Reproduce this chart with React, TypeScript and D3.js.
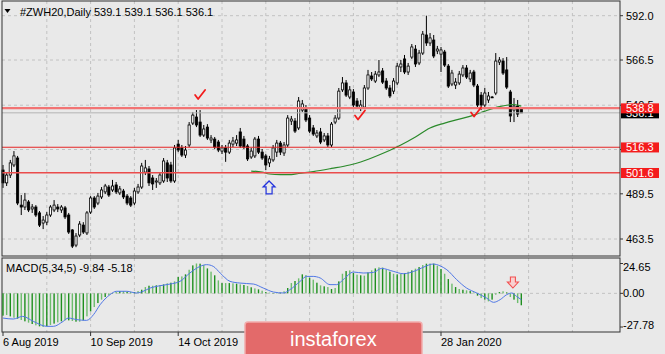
import React from "react";
import * as d3 from "d3";

// #ZWH20 daily bars, first bar = 6 Aug 2019
const opens = [
  503.2, 495.8, 500.3, 506.1, 510.1, 483.0, 481.9, 484.8, 480.8, 481.9,
  478.5, 472.7, 473.2, 477.3, 480.2, 481.9, 480.2, 481.4, 477.3, 468.7,
  460.0, 465.8, 471.5, 467.0, 479.0, 487.1, 484.2, 487.7, 490.6, 493.4,
  491.7, 494.6, 490.0, 491.1, 488.2, 487.1, 484.2, 490.6, 493.4, 502.0,
  503.8, 498.6, 496.3, 495.8, 496.9, 507.3, 506.1, 496.9, 518.1, 515.9,
  511.8, 517.6, 530.2, 533.7, 530.8, 523.3, 527.9, 520.5, 521.0, 519.3,
  514.1, 515.9, 513.5, 518.1, 518.7, 525.1, 521.0, 517.0, 510.7, 511.3,
  521.0, 513.5, 511.3, 507.3, 509.0, 513.5, 518.7, 513.0, 517.6, 531.4,
  531.4, 527.4, 537.7, 538.9, 533.1, 527.4, 522.8, 525.1, 520.5, 522.8,
  517.6, 530.8, 533.1, 549.3, 553.3, 545.2, 548.1, 542.9, 538.9, 539.4,
  550.4, 557.3, 554.4, 557.9, 560.2, 554.4, 550.4, 548.6, 553.3, 562.5,
  567.1, 559.6, 568.2, 572.8, 564.8, 570.5, 580.9, 576.3, 578.0, 571.7,
  569.9, 571.1, 563.0, 552.7, 552.1, 553.3, 557.9, 561.9, 555.6, 559.6,
  551.5, 546.3, 540.6, 543.5, 545.2, 547.5, 565.3, 565.9, 560.8, 548.1,
  537.7, 540.0, 539.1,
];
const highs = [
  506.1, 502.0, 509.0, 514.1, 511.3, 488.8, 490.0, 485.9, 483.6, 483.0,
  479.6, 476.7, 479.0, 483.0, 485.9, 483.6, 483.0, 482.5, 478.5, 469.2,
  466.9, 473.8, 473.2, 479.6, 488.2, 488.2, 490.0, 493.4, 495.2, 494.6,
  497.5, 496.3, 494.0, 492.3, 489.4, 488.2, 492.9, 495.2, 507.3, 509.0,
  505.5, 500.3, 498.6, 502.0, 510.1, 509.0, 507.9, 517.6, 520.5, 517.6,
  517.0, 530.8, 536.6, 537.7, 537.7, 529.1, 529.6, 523.3, 522.2, 520.5,
  517.6, 517.6, 520.5, 522.2, 523.3, 527.4, 522.8, 518.1, 515.9, 522.2,
  522.8, 515.3, 512.4, 511.3, 517.6, 520.5, 519.9, 519.3, 534.8, 534.3,
  533.1, 545.2, 543.5, 540.6, 534.8, 529.1, 526.2, 527.4, 524.5, 524.5,
  530.8, 534.8, 550.4, 556.7, 555.0, 551.5, 549.8, 544.6, 543.5, 552.1,
  560.8, 559.6, 560.2, 566.5, 561.9, 556.1, 552.1, 556.1, 564.8, 566.5,
  569.4, 564.8, 575.7, 575.1, 572.3, 583.2, 592.0, 582.0, 580.9, 574.6,
  574.0, 572.3, 564.2, 560.8, 556.1, 560.2, 563.6, 563.6, 560.8, 560.8,
  552.7, 548.1, 550.4, 548.1, 545.8, 570.5, 568.2, 567.6, 568.2, 549.3,
  544.6, 543.5, 539.1,
];
const lows = [
  492.9, 494.0, 498.6, 504.9, 483.0, 477.3, 480.2, 479.0, 478.5, 476.2,
  470.4, 469.2, 471.5, 476.2, 479.0, 479.0, 478.5, 475.0, 466.4, 458.3,
  458.8, 464.6, 466.4, 465.8, 477.9, 480.8, 483.0, 486.5, 489.4, 487.7,
  490.6, 489.4, 488.8, 486.5, 483.0, 481.9, 483.0, 489.4, 492.3, 500.3,
  494.0, 491.7, 492.9, 494.6, 495.8, 496.3, 495.8, 495.8, 513.5, 510.7,
  510.1, 516.4, 529.1, 527.9, 522.2, 522.2, 520.5, 518.7, 515.3, 513.5,
  512.4, 507.9, 512.4, 516.4, 517.0, 515.9, 515.3, 508.4, 509.6, 510.1,
  512.4, 509.0, 503.2, 504.9, 507.9, 510.7, 511.8, 511.3, 516.4, 529.1,
  524.5, 526.2, 536.6, 530.8, 524.5, 522.8, 521.6, 518.1, 519.3, 516.4,
  516.4, 529.6, 532.0, 548.1, 545.2, 544.0, 539.4, 538.9, 537.1, 538.3,
  549.3, 554.4, 553.3, 556.7, 552.7, 549.3, 544.6, 546.9, 552.1, 559.6,
  558.4, 557.9, 567.1, 562.5, 563.6, 569.4, 574.6, 574.6, 567.6, 569.9,
  559.6, 562.5, 550.4, 551.5, 549.8, 552.1, 556.7, 555.6, 553.8, 550.9,
  539.4, 537.7, 539.4, 541.8, 544.6, 546.3, 563.6, 557.9, 549.8, 530.8,
  530.8, 533.7, 536.1,
];
const closes = [
  495.8, 500.3, 507.3, 511.3, 484.2, 481.9, 485.9, 480.2, 481.9, 477.3,
  471.5, 474.4, 477.3, 481.9, 483.0, 480.8, 481.9, 476.2, 467.5, 459.4,
  465.2, 472.1, 467.5, 478.5, 487.1, 481.9, 488.2, 491.7, 494.0, 488.8,
  494.0, 490.6, 492.3, 487.7, 484.2, 483.0, 491.1, 493.4, 505.5, 504.4,
  495.8, 495.2, 496.9, 500.3, 508.4, 498.6, 496.9, 515.9, 514.7, 511.8,
  514.7, 529.1, 534.8, 529.1, 523.3, 526.8, 521.6, 521.6, 516.4, 514.7,
  515.9, 513.5, 518.7, 519.9, 520.5, 517.0, 516.4, 509.6, 514.1, 521.0,
  513.5, 510.1, 506.1, 509.6, 515.9, 518.7, 513.5, 517.6, 533.1, 532.5,
  525.6, 542.9, 541.2, 532.0, 525.6, 523.9, 524.5, 519.3, 522.8, 517.6,
  529.6, 533.1, 548.6, 553.3, 546.3, 549.3, 540.6, 540.0, 540.6, 550.4,
  557.9, 555.6, 558.4, 559.6, 553.8, 550.4, 545.8, 554.4, 563.0, 564.2,
  559.6, 563.0, 574.0, 564.2, 570.5, 581.4, 576.3, 579.2, 568.8, 572.8,
  572.3, 563.6, 551.5, 559.0, 553.8, 558.4, 561.9, 556.7, 559.0, 552.1,
  540.6, 540.6, 547.5, 545.8, 545.0, 565.9, 566.5, 559.0, 550.9, 534.3,
  540.0, 535.4, 536.1,
];

// moving average (green), read at bar positions
const maIdx = [68, 71, 73, 76, 79, 81, 85, 90, 95, 98, 103, 109, 113, 117, 121, 125, 129, 132, 136, 140, 142];
const maVal = [502.6, 502.0, 500.9, 500.6, 500.6, 501.2, 502.3, 504.1, 506.1, 507.8, 511.8, 517.6, 522.2, 527.4, 530.2, 532.5, 534.8, 537.1, 539.7, 540.9, 540.0];

// MACD(5,34,5) histogram
const macdMain = [
  -18.4, -17.9, -19.0, -20.1, -20.9, -22.0, -23.1, -24.2, -25.3, -26.4,
  -27.25, -27.78, -27.0, -26.1, -25.0, -23.9, -23.1, -22.3, -22.3, -22.8,
  -23.4, -23.4, -22.3, -19.0, -14.9, -11.3, -8.0, -5.2, -3.0, -1.4,
  -0.3, 1.4, 1.9, 1.9, 1.4, 1.1, 1.1, 1.9, 3.0, 5.2,
  6.3, 6.3, 6.6, 6.9, 7.4, 8.3, 8.8, 9.9, 13.5, 14.0,
  15.7, 19.5, 23.1, 24.65, 24.5, 23.4, 20.6, 17.9, 14.9, 10.7,
  8.5, 8.5, 8.5, 8.3, 8.0, 7.4, 6.9, 6.1, 5.0, 4.1,
  3.3, 2.2, 1.1, 0.6, 0.3, 0.3, 0.6, 1.7, 4.4, 8.5,
  10.2, 12.4, 15.7, 15.1, 12.9, 11.3, 8.8, 6.6, 5.8, 5.2,
  3.6, 4.4, 9.9, 16.2, 18.4, 19.0, 16.8, 15.4, 14.9, 14.6,
  17.3, 19.0, 20.6, 21.5, 21.2, 19.5, 17.9, 16.2, 15.7, 16.0,
  16.8, 17.9, 19.0, 20.4, 21.7, 23.4, 24.5, 24.65, 24.5, 22.8,
  20.1, 16.2, 11.8, 8.0, 5.2, 3.6, 3.0, 2.5, 1.9, 0.8,
  -1.9, -3.9, -5.2, -6.6, -5.2, -1.1, 1.1, 1.7, 0.8, -3.0,
  -5.2, -8.0, -9.84,
];
// signal line, read at bar positions
const sigIdx = [0, 2.8, 5.4, 8.3, 12, 13.8, 16.5, 17.9, 20.2, 22.9, 24.8, 26.6, 29.3, 31.1, 33.9, 36.6, 38.4, 40.3, 43, 45.8, 48.5, 51.2, 54, 55.8, 57.6, 59.5, 62.2, 64.9, 68.6, 71.3, 74.1, 76.8, 78.6, 81.4, 83.2, 85, 86.9, 89.6, 91.4, 93.2, 96, 98.7, 101.5, 103.7, 106.9, 109.7, 113.3, 116.1, 117.9, 119.7, 121.6, 124.3, 127, 129.8, 132.5, 134.4, 136.2, 138, 139.4, 140.7, 142];
const sigVal = [-20.4, -21.2, -19.0, -23.1, -27.25, -27.25, -23.1, -20.4, -21.7, -22.3, -17.6, -9.4, -1.1, 1.7, 1.7, 0.3, 1.7, 4.4, 6.3, 7.7, 9.9, 16.8, 22.3, 23.7, 22.3, 16.8, 9.9, 8.5, 7.7, 4.4, 1.1, 0.3, 3.0, 9.9, 14.0, 14.0, 12.7, 7.2, 7.2, 11.3, 17.6, 16.8, 17.3, 20.6, 18.2, 16.2, 19.0, 22.8, 24.2, 22.8, 19.5, 11.3, 4.4, 0.3, -3.9, -7.4, -5.2, -1.1, 0.3, -2.5, -5.18];

const priceTicks = [592.0, 566.5, 540.5, 515.0, 489.5, 463.5];
// 515.0 sits under the 516.3 level label, so it gets no text
const priceLabelTicks = [592.0, 566.5, 540.5, 489.5, 463.5];
const macdTicks = [24.65, 0, -27.78];
// ticks at 72 and 96 lie under the banner
const dateIdx = [0, 24, 48, 72, 96, 120];
const dateLabelIdx = [0, 24, 48, 120];
const dateLabels = ["6 Aug 2019", "10 Sep 2019", "14 Oct 2019", "28 Jan 2020"];
const levels = [538.8, 516.3, 501.6];
const bidPrice = 536.1;
const title = "#ZWH20,Daily  539.1 539.1 536.1 536.1";
const macdTitle = "MACD(5,34,5) -9.84 -5.18";

// chart marks drawn by the author
const checks = [
  { i: 54, p: 546.4 },
  { i: 97.8, p: 534.6 },
  { i: 129.6, p: 536.3 },
];
const upArrow = { i: 72.9, p: 496.9 };
const downArrow = { i: 139.7, v: 13.5 };

const FONT = "'Liberation Sans', Arial, sans-serif";

export default function App() {
  const width = 665;
  const height = 354;
  const left = 2;
  const right = 620;
  const mainTop = 1;
  const mainBottom = 256;
  const subTop = 258;
  const subBottom = 332;

  const x = d3.scaleLinear().domain([0, 168]).range([3, 616.2]);
  const y = d3.scaleLinear().domain([463.5, 592]).range([239, 15.7]);
  const ym = d3.scaleLinear().domain([-27.78, 24.65]).range([327, 263.5]);

  const gridIdx = d3.range(12, 157, 12);
  const bw = 2.2;

  const maPath = d3
    .line<number>()
    .x((_, k) => x(maIdx[k]))
    .y((d) => y(d))
    .curve(d3.curveMonotoneX)(maVal);

  const sigPath = d3
    .line<number>()
    .x((_, k) => x(sigIdx[k]))
    .y((d) => ym(d))
    .curve(d3.curveMonotoneX)(sigVal);

  const levelStyle = [
    { stroke: "#f27474", w: 2.4 },
    { stroke: "#e42626", w: 1.2 },
    { stroke: "#ea4c4c", w: 1.6 },
  ];

  return (
    <svg
      width={width}
      height={height}
      style={{ position: "absolute", left: 0, top: 0, display: "block" }}
      fontFamily={FONT}
      fontSize={11}
    >
      <rect x={0} y={0} width={width} height={height} fill="#e9e9e9" />

      {/* grid */}
      {priceTicks.map((p) => (
        <line key={"hg" + p} x1={left} x2={right} y1={y(p)} y2={y(p)} stroke="#c2c2c2" strokeDasharray="3,3" />
      ))}
      {gridIdx.map((i) => (
        <g key={"vg" + i}>
          <line x1={x(i)} x2={x(i)} y1={mainTop} y2={mainBottom} stroke="#c2c2c2" strokeDasharray="3,3" />
          <line x1={x(i)} x2={x(i)} y1={subTop} y2={subBottom} stroke="#c2c2c2" strokeDasharray="3,3" />
        </g>
      ))}
      <line x1={left} x2={right} y1={ym(0)} y2={ym(0)} stroke="#c2c2c2" strokeDasharray="3,3" />

      {/* candles */}
      {closes.map((c, i) => {
        const o = opens[i];
        const up = c >= o;
        const top = y(Math.max(o, c));
        const h = Math.max(Math.abs(y(o) - y(c)), 0.8);
        return (
          <g key={"c" + i}>
            <line x1={x(i)} x2={x(i)} y1={y(highs[i])} y2={y(lows[i])} stroke="#000" strokeWidth={1} />
            <rect
              x={x(i) - bw / 2}
              y={top}
              width={bw}
              height={h}
              fill={up ? "#fff" : "#000"}
              stroke="#000"
              strokeWidth={0.8}
            />
          </g>
        );
      })}

      {/* moving average */}
      <path d={maPath ?? ""} fill="none" stroke="#2b8a2b" strokeWidth={1.2} />

      {/* horizontal levels */}
      <line x1={left} x2={right} y1={y(bidPrice)} y2={y(bidPrice)} stroke="#b4b4b4" strokeWidth={1} />
      {levels.map((p, k) => (
        <line key={"lv" + p} x1={left} x2={right} y1={y(p)} y2={y(p)} stroke={levelStyle[k].stroke} strokeWidth={levelStyle[k].w} />
      ))}

      {/* annotations */}
      {checks.map((c, k) => {
        const cx = x(c.i);
        const cy = y(c.p);
        return (
          <path
            key={"ck" + k}
            d={`M${cx - 5},${cy} L${cx - 2},${cy + 4} L${cx + 5},${cy - 5}`}
            fill="none"
            stroke="#f21c1c"
            strokeWidth={1.8}
            strokeLinecap="round"
            strokeLinejoin="round"
          />
        );
      })}
      {(() => {
        const cx = x(upArrow.i);
        const t = y(upArrow.p);
        return (
          <path
            d={`M${cx},${t} L${cx + 6},${t + 6} L${cx + 3},${t + 6} L${cx + 3},${t + 13} L${cx - 3},${t + 13} L${cx - 3},${t + 6} L${cx - 6},${t + 6} Z`}
            fill="#e9e9e9"
            stroke="#2233dd"
            strokeWidth={1.2}
          />
        );
      })()}

      {/* frames */}
      <rect x={left} y={mainTop} width={right - left} height={mainBottom - mainTop} fill="none" stroke="#333" />
      <rect x={left} y={subTop} width={right - left} height={subBottom - subTop} fill="none" stroke="#333" />

      {/* title */}
      <path d="M4.5,9 L10.5,9 L7.5,13 Z" fill="#000" />
      <text x={20} y={16} fill="#000">{title}</text>

      {/* price axis */}
      {priceTicks.map((p) => (
        <line key={"ptk" + p} x1={right} x2={right + 3} y1={y(p)} y2={y(p)} stroke="#333" />
      ))}
      {priceLabelTicks.map((p) => (
        <text key={"pt" + p} x={626} y={y(p) + 4} fill="#000">{p.toFixed(1)}</text>
      ))}
      <rect x={621} y={y(bidPrice) - 5} width={38} height={10.5} fill="#000" />
      <text x={626} y={y(bidPrice) + 4} fill="#fff">{bidPrice.toFixed(1)}</text>
      {levels.map((p) => (
        <g key={"lb" + p}>
          <rect x={621} y={y(p) - 4.8} width={38} height={10} fill="#f41c1c" />
          <text x={626} y={y(p) + 4} fill="#fff">{p.toFixed(1)}</text>
        </g>
      ))}

      {/* MACD */}
      {macdMain.map((v, i) => (
        <rect
          key={"m" + i}
          x={x(i) - 0.7}
          y={Math.min(ym(v), ym(0))}
          width={1.4}
          height={Math.abs(ym(v) - ym(0))}
          fill={i % 2 ? "#6dbd6d" : "#1f8f1f"}
        />
      ))}
      <path d={sigPath ?? ""} fill="none" stroke="#5078e6" strokeWidth={1} />
      {(() => {
        const cx = x(downArrow.i);
        const t = ym(downArrow.v);
        return (
          <path
            d={`M${cx - 2.5},${t} L${cx + 2.5},${t} L${cx + 2.5},${t + 5} L${cx + 5.5},${t + 5} L${cx},${t + 11} L${cx - 5.5},${t + 5} L${cx - 2.5},${t + 5} Z`}
            fill="#f9d0d0"
            stroke="#f25050"
            strokeWidth={1.1}
          />
        );
      })()}
      <text x={6} y={272} fill="#000">{macdTitle}</text>
      {macdTicks.map((v, k) => (
        <g key={"mt" + v}>
          <line x1={right} x2={right + 3} y1={ym(v)} y2={ym(v)} stroke="#333" />
          <text x={623} y={ym(v) + 4 + (k === 0 ? 3 : k === 2 ? -2 : 0)} fill="#000">
            {v.toFixed(2)}
          </text>
        </g>
      ))}

      {/* date axis */}
      {dateIdx.map((i) => (
        <line key={"dt" + i} x1={x(i)} x2={x(i)} y1={subBottom} y2={subBottom + 4} stroke="#333" />
      ))}
      {dateLabelIdx.map((i, k) => (
        <text key={"d" + i} x={x(i)} y={346} fill="#000">{dateLabels[k]}</text>
      ))}

      {/* banner */}
      <rect x={245} y={322} width={177} height={40} rx={3} fill="#e36a6a" stroke="#f2acac" strokeWidth={1.5} />
      <text x={290} y={346} fill="#fff" fontSize={20} fontFamily={FONT}>instaforex</text>
    </svg>
  );
}
